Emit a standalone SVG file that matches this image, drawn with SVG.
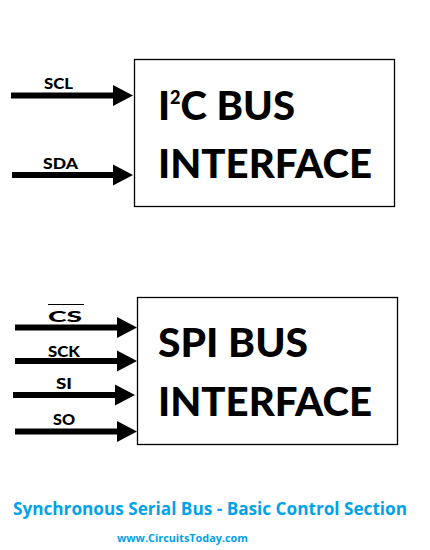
<svg xmlns="http://www.w3.org/2000/svg" width="430" height="550" viewBox="0 0 430 550">
<style>
.box{fill:#fff;stroke:#000;stroke-width:1.3}
.wire{stroke:#000;stroke-width:6;fill:none}
.head{fill:#000}
.lbl{font-family:Lato,"Open Sans",sans-serif;font-weight:900;font-size:15px;fill:#000}
.big{font-family:Lato,"Open Sans",sans-serif;font-weight:900;font-size:40px;fill:#000}
.cap{font-family:"Open Sans",Lato,sans-serif;font-weight:bold;fill:#00a2e8}
</style>
<rect width="430" height="550" fill="#fff"/>
<g id="i2c">
<rect class="box" x="134.5" y="59.5" width="260" height="147"/>
<text class="big" x="158" y="120" textLength="137" lengthAdjust="spacingAndGlyphs">I<tspan font-size="18" dy="-16">2</tspan><tspan dy="16">C BUS</tspan></text>
<text class="big" x="158" y="178" textLength="214" lengthAdjust="spacingAndGlyphs">INTERFACE</text>
</g>
<g id="spi">
<rect class="box" x="137.5" y="297.5" width="260" height="147"/>
<text class="big" x="158" y="357" textLength="150" lengthAdjust="spacingAndGlyphs">SPI BUS</text>
<text class="big" x="158" y="416" textLength="214" lengthAdjust="spacingAndGlyphs">INTERFACE</text>
</g>
<g id="connectors">
<line class="wire" x1="11" y1="95.5" x2="114" y2="95.5"/>
<polygon class="head" points="113,85 133,95.5 113,106"/>
<line class="wire" x1="12" y1="175" x2="114" y2="175"/>
<polygon class="head" points="113,164.5 133,175 113,185.5"/>
<line class="wire" x1="15" y1="327.5" x2="118" y2="327.5"/>
<polygon class="head" points="117,317 137,327.5 117,338"/>
<line class="wire" x1="15" y1="361" x2="118" y2="361"/>
<polygon class="head" points="117,350.5 137,361 117,371.5"/>
<line class="wire" x1="13" y1="395" x2="116" y2="395"/>
<polygon class="head" points="115,384.5 135,395 115,405.5"/>
<line class="wire" x1="15" y1="431.5" x2="118" y2="431.5"/>
<polygon class="head" points="117,421 137,431.5 117,442"/>
</g>
<g id="labels">
<text class="lbl" x="44" y="89" textLength="29" lengthAdjust="spacingAndGlyphs">SCL</text>
<text class="lbl" x="43" y="169" textLength="35" lengthAdjust="spacingAndGlyphs">SDA</text>
<text class="lbl" x="48" y="322" textLength="34" lengthAdjust="spacingAndGlyphs" font-size="17">CS</text>
<line x1="48" y1="304.5" x2="84" y2="304.5" stroke="#000" stroke-width="1"/>
<text class="lbl" x="48" y="357" textLength="32" lengthAdjust="spacingAndGlyphs">SCK</text>
<text class="lbl" x="56" y="389" textLength="16" lengthAdjust="spacingAndGlyphs">SI</text>
<text class="lbl" x="53" y="425" textLength="22" lengthAdjust="spacingAndGlyphs">SO</text>
</g>
<text class="cap" x="13" y="515" font-size="17" textLength="394" lengthAdjust="spacingAndGlyphs">Synchronous Serial Bus - Basic Control Section</text>
<text class="cap" x="117" y="542" font-size="11" textLength="131" lengthAdjust="spacingAndGlyphs">www.CircuitsToday.com</text>
</svg>
